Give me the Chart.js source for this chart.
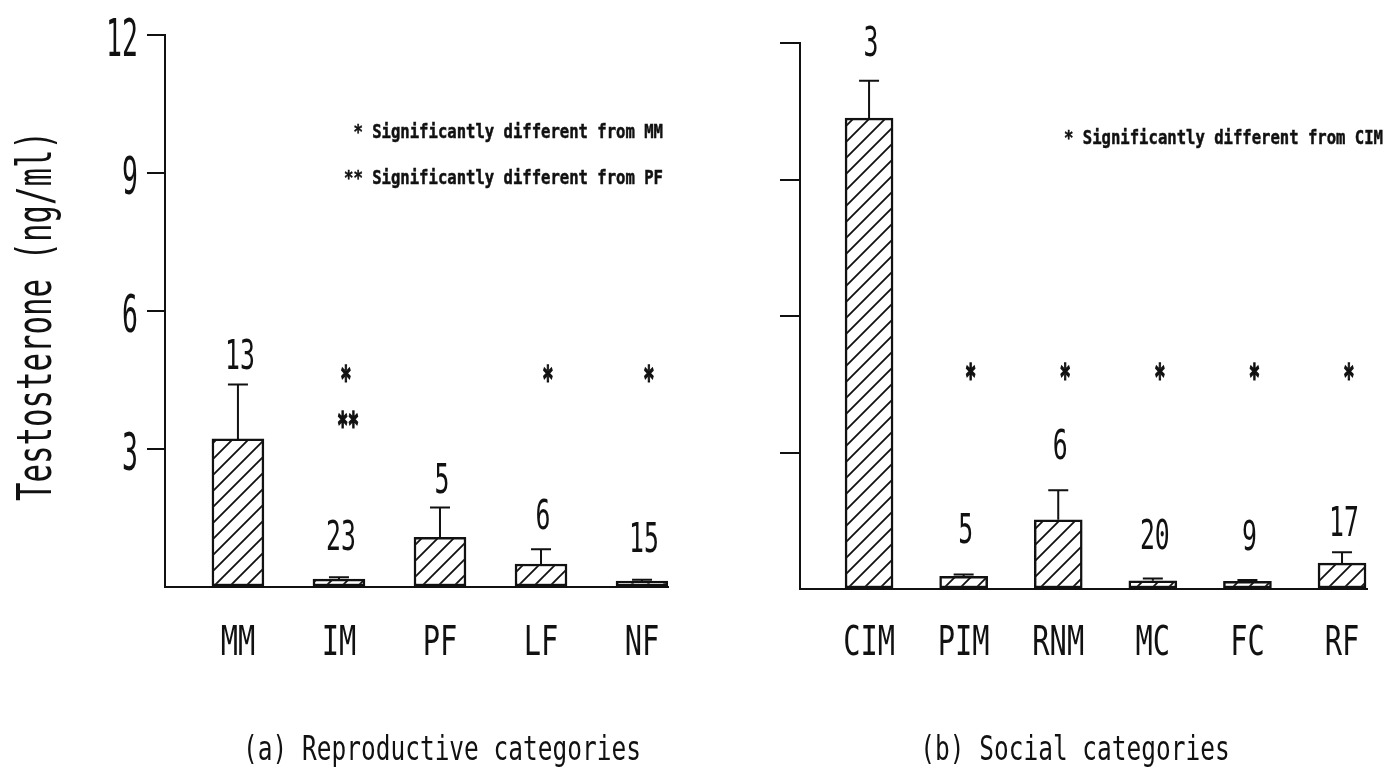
<!DOCTYPE html>
<html>
<head>
<meta charset="utf-8">
<script src="https://cdn.jsdelivr.net/npm/chart.js@4.4.1/dist/chart.umd.min.js"></script>
<style>
  html, body { margin: 0; padding: 0; background: #fff; }
  #wrap { position: relative; width: 1387px; height: 770px; }
  canvas { position: absolute; top: 0; }
  #left { left: 0; }
  #right { left: 700px; }
</style>
</head>
<body>
<div id="wrap">
  <canvas id="left" width="700" height="770"></canvas>
  <canvas id="right" width="687" height="770"></canvas>
</div>
<script>
// Testosterone (ng/ml), mean + SE, by reproductive and by social category

const reproCategories = ['MM', 'IM', 'PF', 'LF', 'NF'];
const reproMeans = [3.22, 0.17, 1.08, 0.50, 0.13];
const reproSE = [1.18, 0.04, 0.65, 0.32, 0.03];
const reproN = [13, 23, 5, 6, 15];
const reproSig = ['', '*', '', '*', '*'];
const reproSig2 = ['', '**', '', '', ''];
const reproNotes = ['* Significantly different from MM', '** Significantly different from PF'];

const socialCategories = ['CIM', 'PIM', 'RNM', 'MC', 'FC', 'RF'];
const socialMeans = [10.35, 0.28, 1.52, 0.18, 0.17, 0.57];
const socialSE = [0.82, 0.04, 0.65, 0.05, 0.03, 0.24];
const socialN = [3, 5, 6, 20, 9, 17];
const socialSig = ['', '*', '*', '*', '*', '*'];
const socialNotes = ['* Significantly different from CIM'];

const yTicks = [0, 3, 6, 9, 12];
const yTickLabels = ['', '3', '6', '9', '12'];

const INK = '#111';
const FONT = '"DejaVu Sans Mono", "Liberation Mono", monospace';

// plotter-style lettering: monospace squeezed horizontally
function drawText(ctx, text, x, y, o) {
    ctx.save();
    ctx.font = `${o.weight || 'normal'} ${o.size}px ${FONT}`;
    ctx.fillStyle = INK;
    ctx.strokeStyle = INK;
    ctx.textAlign = o.align || 'center';
    ctx.textBaseline = 'alphabetic';
    ctx.translate(x, y);
    if (o.rotate) ctx.rotate(o.rotate);
    ctx.scale(o.sx || 1, 1);
    let dy = 0;
    if (o.middle) {
        const m = ctx.measureText(text);
        dy = (m.actualBoundingBoxAscent - m.actualBoundingBoxDescent) / 2;
    }
    ctx.fillText(text, 0, dy);
    if (o.heavy) {
        ctx.lineWidth = o.heavy;
        ctx.strokeText(text, 0, dy);
    }
    ctx.restore();
}

function hatch(ctx, step) {
    const c = document.createElement('canvas');
    c.width = c.height = step;
    const g = c.getContext('2d');
    g.fillStyle = '#fff';
    g.fillRect(0, 0, step, step);
    g.strokeStyle = INK;
    g.lineWidth = 1.8;
    g.beginPath();
    g.moveTo(0, step); g.lineTo(step, 0);
    g.moveTo(-step / 2, step / 2); g.lineTo(step / 2, -step / 2);
    g.moveTo(step / 2, step * 1.5); g.lineTo(step * 1.5, step / 2);
    g.stroke();
    return ctx.createPattern(c, 'repeat');
}

// error bars, sample sizes, significance marks and all lettering
function panelPlugin(spec) {
    return {
        id: 'panel_' + spec.id,
        afterDatasetsDraw(chart) {
            const ctx = chart.ctx;
            const xs = chart.scales.x, ys = chart.scales.y;
            const bars = chart.getDatasetMeta(0).data;
            const star = { size: 36, sx: 0.5, weight: 'bold', middle: true, heavy: 1.6 };

            ctx.save();
            ctx.strokeStyle = INK;
            ctx.lineWidth = 2;
            bars.forEach((bar, i) => {
                const top = ys.getPixelForValue(spec.means[i]);
                const err = ys.getPixelForValue(spec.means[i] + spec.se[i]);
                ctx.beginPath();
                ctx.moveTo(bar.x, top);
                ctx.lineTo(bar.x, err);
                ctx.moveTo(bar.x - 10, err);
                ctx.lineTo(bar.x + 10, err);
                ctx.stroke();

                drawText(ctx, String(spec.n[i]), bar.x + 2, err - spec.nGap[i], { size: 40, sx: 0.62 });

                if (spec.sig[i]) {
                    drawText(ctx, spec.sig[i], bar.x + 7, ys.getPixelForValue(spec.sigAt), star);
                }
                if (spec.sig2 && spec.sig2[i]) {
                    drawText(ctx, spec.sig2[i], bar.x + 9, ys.getPixelForValue(spec.sig2At), star);
                }
            });
            ctx.restore();

            spec.categories.forEach((c, i) => {
                drawText(ctx, c, xs.getPixelForValue(i), spec.catBase, { size: 41, sx: 0.7 });
            });

            if (spec.tickLabels) {
                yTicks.forEach((v, i) => {
                    if (!spec.tickLabels[i]) return;
                    drawText(ctx, spec.tickLabels[i], xs.left - 27, ys.getPixelForValue(v) + 1.5, { size: 51, sx: 0.52, align: 'right', middle: true });
                });
            }

            if (spec.yTitle) {
                drawText(ctx, spec.yTitle, 37, 316, { size: 48, sx: 0.64, rotate: -Math.PI / 2, middle: true });
            }

            spec.notes.forEach((t, i) => {
                drawText(ctx, t, spec.notesRight, spec.notesTop + i * 46, { size: 19, sx: 0.82, weight: 'bold', align: 'right', middle: true, heavy: 0.5 });
            });

            drawText(ctx, spec.title, spec.titleX, 760, { size: 34, sx: 0.72 });
        }
    };
}

function makePanel(spec) {
    const canvas = document.getElementById(spec.id);
    const ctx = canvas.getContext('2d');
    const fill = hatch(ctx, 16);

    return new Chart(canvas, {
        type: 'bar',
        data: {
            datasets: [{
                data: spec.means.map((v, i) => ({ x: i, y: v })),
                backgroundColor: fill,
                borderColor: INK,
                borderWidth: 2.5,
                borderSkipped: false,
                barThickness: spec.barWidth
            }]
        },
        options: {
            responsive: false,
            animation: false,
            layout: { padding: spec.padding },
            plugins: { legend: { display: false }, tooltip: { enabled: false } },
            scales: {
                x: {
                    type: 'linear',
                    min: spec.xMin,
                    max: spec.xMax,
                    afterBuildTicks: s => { s.ticks = []; },
                    ticks: { display: false },
                    grid: { display: true, drawOnChartArea: false, drawTicks: false },
                    border: { display: true, color: INK, width: 2 }
                },
                y: {
                    min: 0,
                    max: 12,
                    afterBuildTicks: s => { s.ticks = yTicks.map(v => ({ value: v })); },
                    ticks: { display: false },
                    grid: {
                        drawOnChartArea: false,
                        drawTicks: true,
                        tickLength: spec.tickLength,
                        lineWidth: 2,
                        color: c => (c.tick && c.tick.value === 0) ? 'rgba(0,0,0,0)' : INK
                    },
                    border: { display: true, color: INK, width: 2 }
                }
            }
        },
        plugins: [panelPlugin(spec)]
    });
}

makePanel({
    id: 'left',
    categories: reproCategories,
    means: reproMeans,
    se: reproSE,
    n: reproN,
    sig: reproSig,
    sig2: reproSig2,
    notes: reproNotes,
    tickLabels: yTickLabels,
    yTitle: 'Testosterone (ng/ml)',
    title: '(a) Reproductive categories',
    padding: { left: 147, right: 32, top: 35, bottom: 183 },
    tickLength: 18,
    xMin: -0.722,
    xMax: 4.257,
    barWidth: 52,
    nGap: [16, 27, 14, 20, 28],
    sigAt: 4.64,
    sig2At: 3.65,
    catBase: 655,
    titleX: 442,
    notesRight: 663,
    notesTop: 132
});

makePanel({
    id: 'right',
    categories: socialCategories,
    means: socialMeans,
    se: socialSE,
    n: socialN,
    sig: socialSig,
    notes: socialNotes,
    title: '(b) Social categories',
    padding: { left: 80, right: 20, top: 43, bottom: 181 },
    tickLength: 20,
    xMin: -0.73,
    xMax: 5.264,
    barWidth: 48,
    nGap: [25, 31, 31, 30, 30, 16],
    sigAt: 4.77,
    catBase: 655,
    titleX: 375,
    notesRight: 683,
    notesTop: 138
});
</script>
</body>
</html>
